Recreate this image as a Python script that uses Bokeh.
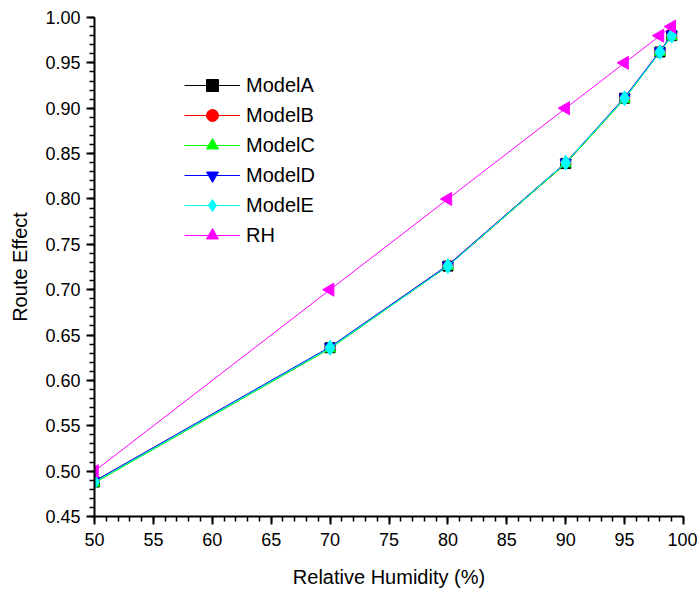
import numpy as np
from bokeh.plotting import figure
from bokeh.models import Range1d, SingleIntervalTicker, NumeralTickFormatter, Legend, ColumnDataSource
from bokeh.embed import file_html
from bokeh.resources import INLINE

humidity = [50, 70, 80, 90, 95, 98, 99]
model_a = [0.488, 0.636, 0.726, 0.839, 0.911, 0.962, 0.980]
model_b = [0.489, 0.636, 0.727, 0.840, 0.911, 0.963, 0.980]
model_c = [0.487, 0.635, 0.726, 0.839, 0.910, 0.962, 0.979]
model_d = [0.489, 0.637, 0.727, 0.840, 0.912, 0.963, 0.981]
model_e = [0.488, 0.636, 0.726, 0.840, 0.911, 0.962, 0.980]
rh = [0.50, 0.70, 0.80, 0.90, 0.95, 0.98, 0.99]

series = [
    ("ModelA", model_a, "black", "square", 0.0, 10),
    ("ModelB", model_b, "red", "circle", 0.0, 10),
    ("ModelC", model_c, "#00ff00", "triangle", 0.0, 11),
    ("ModelD", model_d, "blue", "inverted_triangle", 0.0, 11),
    ("ModelE", model_e, "cyan", "diamond", 0.0, 15),
    ("RH", rh, "magenta", "triangle", np.pi / 2, 13),
]

p = figure(width=697, height=594, output_backend="svg", toolbar_location=None,
           x_range=Range1d(50, 100), y_range=Range1d(0.45, 1.00),
           min_border_left=94, min_border_right=14, min_border_top=17, min_border_bottom=78)
p.outline_line_color = None
p.grid.visible = False
p.background_fill_color = "white"
p.border_fill_color = "white"

items = []
for name, ys, color, marker, ang, size in series:
    src = ColumnDataSource(dict(x=humidity, y=ys, a=[ang] * len(ys)))
    l = p.line("x", "y", source=src, line_color=color, line_width=1)
    s = p.scatter("x", "y", source=src, marker=marker, size=size, angle="a",
                  fill_color=color, line_color=color)
    items.append((name, [l, s]))

legend = Legend(items=items, location=(90, 266))
legend.border_line_color = None
legend.background_fill_alpha = 0
legend.padding = 0
legend.margin = 0
legend.spacing = 0
legend.label_height = 30
legend.glyph_height = 30
legend.glyph_width = 56
legend.label_standoff = 6
legend.label_text_font = "Liberation Sans"
legend.label_text_font_size = "20px"
legend.label_text_color = "black"
p.add_layout(legend)

p.xaxis.ticker = SingleIntervalTicker(interval=5, num_minor_ticks=5)
p.yaxis.ticker = SingleIntervalTicker(interval=0.05, num_minor_ticks=5)
p.yaxis.formatter = NumeralTickFormatter(format="0.00")

for ax in (p.xaxis[0], p.yaxis[0]):
    ax.axis_line_width = 2
    ax.major_tick_line_width = 2
    ax.minor_tick_line_width = 1.5
    ax.major_tick_out = 8
    ax.major_tick_in = 0
    ax.minor_tick_out = 5
    ax.minor_tick_in = 0
    ax.major_label_text_font = "Liberation Sans"
    ax.major_label_text_font_size = "18px"
    ax.major_label_text_color = "black"
    ax.axis_label_text_font = "Liberation Sans"
    ax.axis_label_text_font_size = "20px"
    ax.axis_label_text_font_style = "normal"
    ax.axis_label_text_color = "black"
    ax.axis_line_color = "black"

p.xaxis.axis_label = "Relative Humidity (%)"
p.yaxis.axis_label = "Route Effect"
p.xaxis.major_label_standoff = 8
p.yaxis.major_label_standoff = 6
p.xaxis.axis_label_standoff = 17
p.yaxis.axis_label_standoff = 11

open("out.html", "w").write(file_html(p, INLINE))
